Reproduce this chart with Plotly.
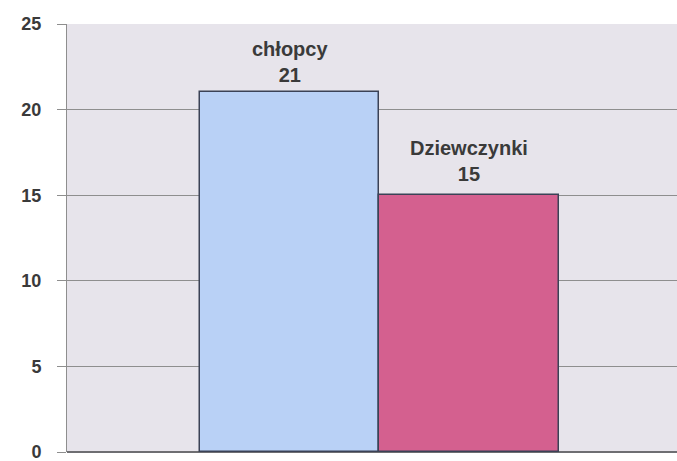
import plotly.graph_objects as go

categories = ["chłopcy", "Dziewczynki"]
values = [21, 15]
colors = ["#b9d1f6", "#d4608f"]
y_ticks = [0, 5, 10, 15, 20, 25]

fig = go.Figure()
fig.add_trace(go.Bar(
    x=categories, y=values,
    marker=dict(color=colors, line=dict(color="#3b4256", width=1.5)),
    width=1.0,
))

shifts = [4, 8]
for c, v, s in zip(categories, values, shifts):
    fig.add_annotation(
        x=c, y=v, text=f"{c}<br>{v}", showarrow=False,
        yanchor="bottom", yshift=s,
        font=dict(family="Liberation Sans", size=20, color="#3a3a3a", weight="bold"),
    )

fig.update_layout(
    width=677, height=461,
    margin=dict(l=67, r=0, t=24, b=9),
    paper_bgcolor="white",
    plot_bgcolor="#e7e4eb",
    showlegend=False,
    bargap=0,
)
fig.update_xaxes(
    range=[-1.242, 2.16], showticklabels=False, showgrid=False,
    showline=False, zeroline=False, ticks="",
)
fig.update_yaxes(
    range=[0, 25], tickvals=y_ticks, showgrid=True, gridcolor="#8e8e8e", gridwidth=1,
    showline=True, linecolor="#8e8e8e", linewidth=1,
    zeroline=True, zerolinecolor="#6e6e72", zerolinewidth=1.5,
    ticks="outside", ticklen=9, tickcolor="#8e8e8e",
    ticklabelstandoff=12, ticklabeloverflow="allow",
    tickfont=dict(family="Liberation Sans", size=18, color="#3a3a3a", weight="bold"),
)

fig.write_html(
    "out.html",
    config={"displayModeBar": False},
    post_script="document.body.style.margin='0';document.body.style.overflow='hidden';",
)
